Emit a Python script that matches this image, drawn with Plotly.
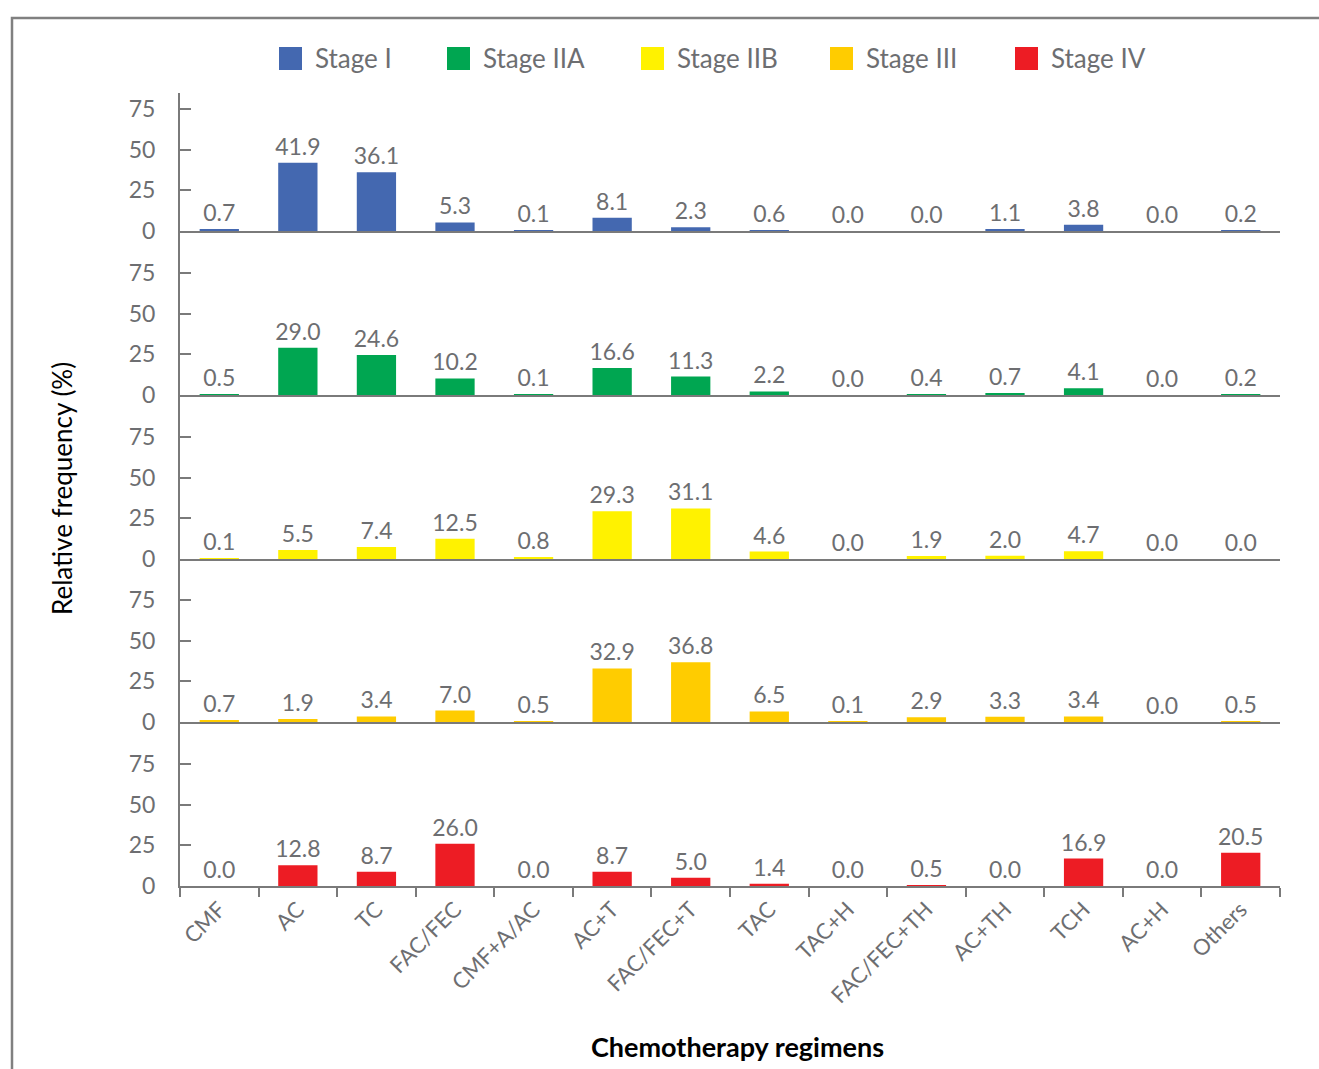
import plotly.graph_objects as go
from plotly.subplots import make_subplots

# Chemotherapy regimens (x categories)
regimens = ["CMF", "AC", "TC", "FAC/FEC", "CMF+A/AC", "AC+T", "FAC/FEC+T", "TAC",
            "TAC+H", "FAC/FEC+TH", "AC+TH", "TCH", "AC+H", "Others"]

# Relative frequency (%) of each regimen by stage
stage_names = ["Stage I", "Stage IIA", "Stage IIB", "Stage III", "Stage IV"]
stage_i = [0.7, 41.9, 36.1, 5.3, 0.1, 8.1, 2.3, 0.6, 0.0, 0.0, 1.1, 3.8, 0.0, 0.2]
stage_iia = [0.5, 29.0, 24.6, 10.2, 0.1, 16.6, 11.3, 2.2, 0.0, 0.4, 0.7, 4.1, 0.0, 0.2]
stage_iib = [0.1, 5.5, 7.4, 12.5, 0.8, 29.3, 31.1, 4.6, 0.0, 1.9, 2.0, 4.7, 0.0, 0.0]
stage_iii = [0.7, 1.9, 3.4, 7.0, 0.5, 32.9, 36.8, 6.5, 0.1, 2.9, 3.3, 3.4, 0.0, 0.5]
stage_iv = [0.0, 12.8, 8.7, 26.0, 0.0, 8.7, 5.0, 1.4, 0.0, 0.5, 0.0, 16.9, 0.0, 20.5]
stage_values = [stage_i, stage_iia, stage_iib, stage_iii, stage_iv]

y_ticks = [0, 25, 50, 75]

colors = ["#4468B0", "#00A651", "#FFF200", "#FFCC00", "#ED1C24"]
GRAY = "#6D6E71"
AXIS = "#7A7A7A"
FONT = "Lato"

W, H = 1319, 1069
left, right = 180, 1280
top, bottom = 93, 886
plot_h = bottom - top
# zero baselines of the five stacked panels (pixels from top)
baselines = [231, 395, 559, 722, 886]
px_per_unit = 122 / 75.0


def px_x(p):
    return (p - left) / (right - left)


def px_y(p):
    return (bottom - p) / plot_h


fig = make_subplots(rows=5, cols=1, shared_xaxes=True, vertical_spacing=0)

for i, (name, vals, col) in enumerate(zip(stage_names, stage_values, colors)):
    fig.add_trace(
        go.Bar(
            x=regimens, y=vals, name=name, marker_color=col, marker_line_width=0,
            width=0.5, text=vals, texttemplate="%{y:.1f}", textposition="outside",
            constraintext="none",
            textfont=dict(family=FONT, size=23, color=GRAY), cliponaxis=False,
            showlegend=False,
        ),
        row=i + 1, col=1,
    )

prev = top
for i, base in enumerate(baselines):
    idx = "" if i == 0 else str(i + 1)
    span = (base - prev) / px_per_unit
    fig.layout["yaxis" + idx].update(
        domain=[px_y(base), px_y(prev)], range=[0, span],
        tickvals=y_ticks, ticks="inside", ticklen=11, tickwidth=2, tickcolor=AXIS,
        showline=True, linecolor=AXIS, linewidth=2, showgrid=False, zeroline=False,
        tickfont=dict(family=FONT, size=23, color=GRAY), ticklabelstandoff=18,
        fixedrange=True,
    )
    last = i == len(baselines) - 1
    fig.layout["xaxis" + idx].update(
        domain=[0, 1], showline=True, linecolor=AXIS, linewidth=2, showgrid=False,
        ticks="outside" if last else "", tickson="boundaries", ticklen=9,
        tickwidth=2, tickcolor=AXIS, showticklabels=last, tickangle=-45,
        tickfont=dict(family=FONT, size=22, color=GRAY),
    )
    prev = base

shapes = [
    # outer frame
    dict(type="rect", xref="paper", yref="paper", x0=px_x(12), x1=px_x(1340),
         y0=px_y(18), y1=px_y(1090), line=dict(color="#808080", width=2.5),
         layer="below"),
]
annotations = [
    dict(text="Chemotherapy regimens", xref="paper", yref="paper",
         x=px_x(737), y=px_y(1046), xanchor="center", yanchor="middle",
         showarrow=False,
         font=dict(family=FONT, size=27, color="black", weight="bold")),
    dict(text="Relative frequency (%)", xref="paper", yref="paper",
         x=px_x(62), y=px_y(489), xanchor="center", yanchor="middle",
         textangle=-90, showarrow=False,
         font=dict(family=FONT, size=26, color="black")),
]

# legend row
legend_sq = [279, 447, 641, 830, 1015]
for name, col, sx in zip(stage_names, colors, legend_sq):
    shapes.append(dict(type="rect", xref="paper", yref="paper",
                       x0=px_x(sx), x1=px_x(sx + 23), y0=px_y(70), y1=px_y(47),
                       fillcolor=col, line=dict(width=0)))
    annotations.append(dict(text=name, xref="paper", yref="paper",
                            x=px_x(sx + 34), y=px_y(58), xanchor="left",
                            yanchor="middle", showarrow=False,
                            font=dict(family=FONT, size=26, color=GRAY)))

fig.update_layout(
    width=W, height=H,
    margin=dict(l=left, r=W - right, t=top, b=H - bottom),
    plot_bgcolor="white", paper_bgcolor="white",
    bargap=0.5, shapes=shapes, annotations=annotations, showlegend=False,
)

fig.write_html("out.html")
